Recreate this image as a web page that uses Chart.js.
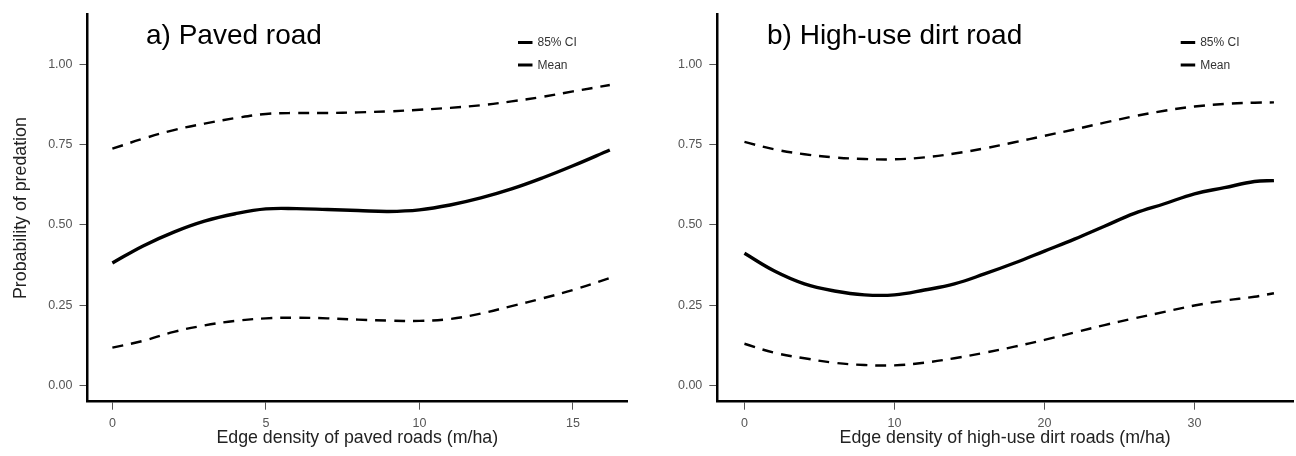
<!DOCTYPE html>
<html>
<head>
<meta charset="utf-8">
<script src="https://cdn.jsdelivr.net/npm/chart.js@4/dist/chart.umd.min.js"></script>
<style>
  html, body { margin: 0; padding: 0; background: #fff; }
  body { width: 1296px; height: 456px; position: relative; overflow: hidden; }
  canvas { position: absolute; top: 0; }
  #pavedChart { left: 0; }
  #dirtChart { left: 648px; }
</style>
</head>
<body>
<canvas id="pavedChart" width="648" height="456"></canvas>
<canvas id="dirtChart" width="648" height="456"></canvas>
<script>
'use strict';

/* ── data ── */
const probTicks = [0, 0.25, 0.5, 0.75, 1];

// a) paved road
const pavedTicks = [0, 5, 10, 15];
const pavedX     = [0, 1, 2, 3, 4, 5, 6, 7, 8, 9, 10, 11, 12, 13, 14, 15, 16.2];
const pavedMean  = [0.382, 0.435, 0.478, 0.512, 0.535, 0.550, 0.551, 0.548, 0.545, 0.542, 0.547, 0.562, 0.584, 0.612, 0.646, 0.684, 0.733];
const pavedUpper = [0.737, 0.768, 0.795, 0.815, 0.832, 0.845, 0.848, 0.848, 0.850, 0.853, 0.858, 0.864, 0.872, 0.884, 0.898, 0.915, 0.935];
const pavedLower = [0.119, 0.140, 0.168, 0.188, 0.202, 0.210, 0.212, 0.210, 0.206, 0.203, 0.202, 0.208, 0.225, 0.248, 0.272, 0.298, 0.335];

// b) high-use dirt road
const dirtTicks = [0, 10, 20, 30];
const dirtX     = [0, 2, 4, 6, 8, 10, 12, 14, 16, 18, 20, 22, 24, 26, 28, 30, 32, 34, 35.3];
const dirtMean  = [0.412, 0.357, 0.317, 0.295, 0.283, 0.283, 0.298, 0.317, 0.348, 0.382, 0.419, 0.456, 0.496, 0.536, 0.566, 0.597, 0.616, 0.635, 0.638];
const dirtUpper = [0.758, 0.735, 0.720, 0.710, 0.705, 0.704, 0.710, 0.722, 0.738, 0.757, 0.777, 0.797, 0.818, 0.838, 0.855, 0.868, 0.876, 0.880, 0.881];
const dirtLower = [0.131, 0.103, 0.086, 0.072, 0.065, 0.064, 0.072, 0.086, 0.103, 0.122, 0.143, 0.166, 0.189, 0.210, 0.230, 0.250, 0.265, 0.277, 0.288];

const legendLabels = ['85% CI', 'Mean'];

const FONT = "'Liberation Sans', Arial, sans-serif";
Chart.defaults.font.family = FONT;

const pts = (xs, ys) => xs.map((x, i) => ({ x: x, y: ys[i] }));

/* panel title + small legend in the top right corner */
const panelDecor = {
    id: 'panelDecor',
    afterDraw(chart, args, opts) {
        const ctx = chart.ctx;
        ctx.save();
        ctx.fillStyle = '#000';
        ctx.font = '28px ' + FONT;
        ctx.textBaseline = 'alphabetic';
        ctx.fillText(opts.title, opts.titleX, 43.5);

        ctx.font = '12px ' + FONT;
        ctx.textBaseline = 'middle';
        legendLabels.forEach((lab, i) => {
            const y = 42.5 + i * 22.5;
            ctx.strokeStyle = '#000';
            ctx.lineWidth = 3;
            ctx.beginPath();
            ctx.moveTo(opts.legendX, y);
            ctx.lineTo(opts.legendX + 14.5, y);
            ctx.stroke();
            ctx.fillStyle = '#333';
            ctx.fillText(lab, opts.legendX + 19.5, y + 0.5);
        });
        ctx.restore();
    },
};

function makePanel(id, cfg) {
    const ctx = document.getElementById(id).getContext('2d');
    const lineSet = (data, dashed) => ({
        data: data,
        showLine: true,
        borderColor: '#000',
        borderWidth: dashed ? 2.4 : 3.4,
        borderDash: dashed ? [11, 8] : [],
        pointRadius: 0,
        tension: 0.4,
        fill: false,
    });

    return new Chart(ctx, {
        type: 'scatter',
        data: {
            datasets: [
                lineSet(pts(cfg.x, cfg.upper), true),
                lineSet(pts(cfg.x, cfg.mean), false),
                lineSet(pts(cfg.x, cfg.lower), true),
            ],
        },
        plugins: [panelDecor],
        options: {
            responsive: false,
            animation: false,
            devicePixelRatio: 1,
            layout: { padding: { left: 0, top: 11.7, right: cfg.padRight, bottom: 0 } },
            plugins: {
                legend: { display: false },
                tooltip: { enabled: false },
                panelDecor: { title: cfg.title, titleX: cfg.titleX, legendX: cfg.legendX },
            },
            scales: {
                x: {
                    type: 'linear',
                    min: cfg.xMin,
                    max: cfg.xMax,
                    afterBuildTicks: s => { s.ticks = cfg.ticks.map(v => ({ value: v })); },
                    afterFit: s => { s.height = 54.3; },
                    grid: { drawOnChartArea: false, drawTicks: true, tickLength: 8, color: '#555' },
                    border: { display: true, color: '#000', width: 2.5 },
                    ticks: { color: '#555', font: { size: 12.5 }, padding: 6, maxRotation: 0 },
                    title: { display: true, text: cfg.xTitle, color: '#222', font: { size: 17.8 }, padding: { top: 0, bottom: 7 } },
                },
                y: {
                    min: -0.049,
                    max: 1.154,
                    afterBuildTicks: s => { s.ticks = probTicks.map(v => ({ value: v })); },
                    afterFit: s => { s.width = cfg.yWidth; },
                    grid: { drawOnChartArea: false, drawTicks: true, tickLength: 8, color: '#555' },
                    border: { display: true, color: '#000', width: 2.5 },
                    ticks: { color: '#555', font: { size: 12.5 }, padding: 7, callback: v => v.toFixed(2) },
                    title: { display: cfg.yTitle !== '', text: cfg.yTitle, color: '#222', font: { size: 17.8 }, padding: { top: 10, bottom: 0 } },
                },
            },
        },
    });
}

makePanel('pavedChart', {
    x: pavedX, mean: pavedMean, upper: pavedUpper, lower: pavedLower,
    ticks: pavedTicks, xMin: -0.81, xMax: 16.76,
    xTitle: 'Edge density of paved roads (m/ha)',
    yTitle: 'Probability of predation',
    yWidth: 87.5, padRight: 21,
    title: 'a) Paved road', titleX: 146, legendX: 518,
});

makePanel('dirtChart', {
    x: dirtX, mean: dirtMean, upper: dirtUpper, lower: dirtLower,
    ticks: dirtTicks, xMin: -1.81, xMax: 36.57,
    xTitle: 'Edge density of high-use dirt roads (m/ha)',
    yTitle: '',
    yWidth: 69.3, padRight: 3,
    title: 'b) High-use dirt road', titleX: 119, legendX: 532.7,
});
</script>
</body>
</html>
